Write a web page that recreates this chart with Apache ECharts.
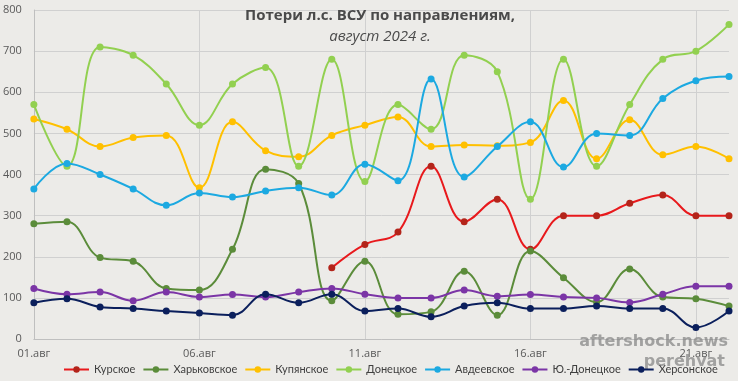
<!DOCTYPE html>
<html>
<head>
<meta charset="utf-8">
<script src="https://cdn.jsdelivr.net/npm/echarts@6/dist/echarts.min.js"></script>
<style>
html,body{margin:0;padding:0;background:#ECEBE8;}
#chart{width:738px;height:381px;}
</style>
</head>
<body>
<div id="chart"></div>
<script>
const categories = ["01.авг","02.авг","03.авг","04.авг","05.авг","06.авг","07.авг","08.авг","09.авг","10.авг","11.авг","12.авг","13.авг","14.авг","15.авг","16.авг","17.авг","18.авг","19.авг","20.авг","21.авг","22.авг"];
const seriesNames = ["Курское","Харьковское","Купянское","Донецкое","Авдеевское","Ю.-Донецкое","Херсонское"];
const kursk   = [null,null,null,null,null,null,null,null,null,173,230,260,420,285,340,218,300,300,330,350,300,300];
const kharkov = [280,285,198,189,123,119,218,413,378,93,189,60,66,165,58,214,149,90,170,102,98,80];
const kupyansk= [535,510,468,490,495,368,528,458,443,495,520,540,468,472,470,478,580,438,533,448,468,438];
const donetsk = [570,420,710,690,620,520,620,660,420,680,383,570,510,690,650,340,680,420,570,680,700,765];
const avdeevka= [365,427,400,365,325,355,345,360,368,350,425,385,632,394,468,528,418,500,495,585,628,638];
const yuDonetsk=[123,109,114,93,114,102,108,102,114,123,109,100,100,119,104,108,102,100,89,109,128,128];
const kherson = [88,98,78,74,68,63,58,109,88,109,68,74,54,80,88,74,74,80,74,74,28,68];
const yTicks = [0,100,200,300,400,500,600,700,800];

const dataSets = [kursk,kharkov,kupyansk,donetsk,avdeevka,yuDonetsk,kherson];
const lineColors = ["#E8191C","#5B8C3A","#FFC000","#92D050","#1CA9E1","#7B35A6","#0B1F5C"];
const dotColors  = ["#B3241A","#5B8C3A","#FFC000","#92D050","#1CA9E1","#7B35A6","#0B1F5C"];

const chart = echarts.init(document.getElementById('chart'));
chart.setOption({
  backgroundColor: '#ECEBE8',
  animation: false,
  title: {
    text: 'Потери л.с. ВСУ по направлениям,',
    subtext: 'август 2024 г.',
    left: 375, textAlign: 'center', top: 3, itemGap: 6,
    textStyle: {fontFamily: 'Open Sans', fontWeight: 'bold', fontSize: 15, color: '#4A4A4A'},
    subtextStyle: {fontFamily: 'Open Sans', fontStyle: 'italic', fontSize: 15, color: '#4A4A4A'}
  },
  grid: {left: 33, right: 9, top: 10, bottom: 42, containLabel: false},
  legend: {
    bottom: 1, left: 58, width: 700, itemWidth: 25, itemHeight: 8, itemGap: 7,
    textStyle: {fontFamily: 'Lato', fontSize: 11, color: '#404040'},
    data: seriesNames
  },
  xAxis: {
    type: 'category', boundaryGap: false, data: categories,
    axisLine: {show: true, lineStyle: {color: '#BFBFBF'}},
    axisTick: {show: false},
    axisLabel: {interval: 4, color: '#595959', fontFamily: 'Open Sans', fontSize: 11, margin: 9},
    splitLine: {show: true, interval: 4, lineStyle: {color: '#D0D0D0'}}
  },
  yAxis: {
    type: 'value', min: yTicks[0], max: yTicks[yTicks.length-1], interval: 100,
    axisLine: {show: true, lineStyle: {color: '#BFBFBF'}},
    axisTick: {show: false},
    axisLabel: {color: '#595959', fontFamily: 'Open Sans', fontSize: 11, margin: 12},
    splitLine: {lineStyle: {color: '#D0D0D0'}}
  },
  graphic: [
    {type: 'text', right: 10, top: 334, style: {text: 'aftershock.news', font: 'bold 16px "DejaVu Sans"', fill: 'rgba(130,130,130,0.7)'}, z: 1},
    {type: 'text', right: 13, top: 354, style: {text: 'perehvat', font: 'bold 16px "DejaVu Sans"', fill: 'rgba(130,130,130,0.7)'}, z: 1}
  ],
  series: seriesNames.map((n, i) => ({
    name: n, type: 'line', data: dataSets[i], smooth: 0.4,
    symbol: 'circle', symbolSize: 7,
    lineStyle: {color: lineColors[i], width: 2},
    itemStyle: {color: dotColors[i]},
    z: 3 + i
  }))
});
</script>
</body>
</html>
